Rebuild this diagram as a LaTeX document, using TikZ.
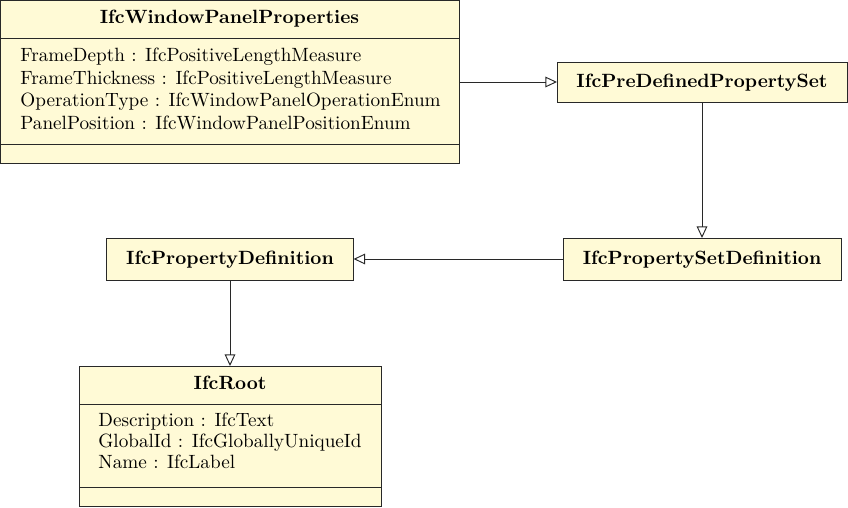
\documentclass[tikz,border=0pt]{standalone}
\usetikzlibrary{arrows.meta}
\definecolor{classfill}{RGB}{255,250,214}
\definecolor{lineclr}{RGB}{40,40,40}
\begin{document}
\begin{tikzpicture}[x=0.521pt,y=-0.521pt,
  classbox/.style={draw=lineclr,fill=classfill,line width=0.5pt,rectangle,inner sep=0pt,outer sep=0pt},
  onebox/.style={classbox,font=\bfseries,text height=7pt,text depth=1.5pt},
  titletxt/.style={font=\bfseries,inner sep=0pt,text height=7pt,text depth=2pt},
  attrtxt/.style={anchor=west,inner sep=0pt,text height=7pt,text depth=2pt},
  divider/.style={draw=lineclr,line width=0.5pt},
  gen/.style={draw=lineclr,line width=0.5pt,-{Triangle[open,length=6pt,width=5.5pt]}}]
\useasboundingbox (0,0) rectangle (848,507);
% IfcWindowPanelProperties
\node[classbox,minimum width=459*0.521pt,minimum height=163*0.521pt] (wpp) at (229.5,81.5) {};
\node[titletxt] (wppt) at (229.5,19) {IfcWindowPanelProperties};
\draw[divider] (wpp.west |- 0,38) -- (wpp.east |- 0,38);
\draw[divider] (wpp.west |- 0,144) -- (wpp.east |- 0,144);
\node[attrtxt] (wpa1) at (20,57) {FrameDepth : IfcPositiveLengthMeasure};
\node[attrtxt] (wpa2) at (20,79.5) {FrameThickness : IfcPositiveLengthMeasure};
\node[attrtxt] (wpa3) at (20,102) {OperationType : IfcWindowPanelOperationEnum};
\node[attrtxt] (wpa4) at (20,124.5) {PanelPosition : IfcWindowPanelPositionEnum};
% IfcPreDefinedPropertySet
\node[onebox,minimum width=290*0.521pt,minimum height=40*0.521pt] (pdps) at (702,82) {IfcPreDefinedPropertySet};
% IfcPropertySetDefinition
\node[onebox,minimum width=278*0.521pt,minimum height=42*0.521pt] (psd) at (702,259) {IfcPropertySetDefinition};
% IfcPropertyDefinition
\node[onebox,minimum width=247*0.521pt,minimum height=42*0.521pt] (pd) at (230,259) {IfcPropertyDefinition};
% IfcRoot
\node[classbox,minimum width=302*0.521pt,minimum height=140*0.521pt] (root) at (230,436) {};
\node[titletxt] (roott) at (230,385) {IfcRoot};
\draw[divider] (root.west |- 0,404) -- (root.east |- 0,404);
\draw[divider] (root.west |- 0,487) -- (root.east |- 0,487);
\node[attrtxt] (ra1) at (98,422) {Description : IfcText};
\node[attrtxt] (ra2) at (98,443) {GlobalId : IfcGloballyUniqueId};
\node[attrtxt] (ra3) at (98,464) {Name : IfcLabel};
% connectors
\draw[gen] (wpp.east |- pdps.west) -- (pdps.west);
\draw[gen] (pdps.south) -- (psd.north);
\draw[gen] (psd.west) -- (pd.east);
\draw[gen] (pd.south) -- (root.north);
\end{tikzpicture}
\end{document}
